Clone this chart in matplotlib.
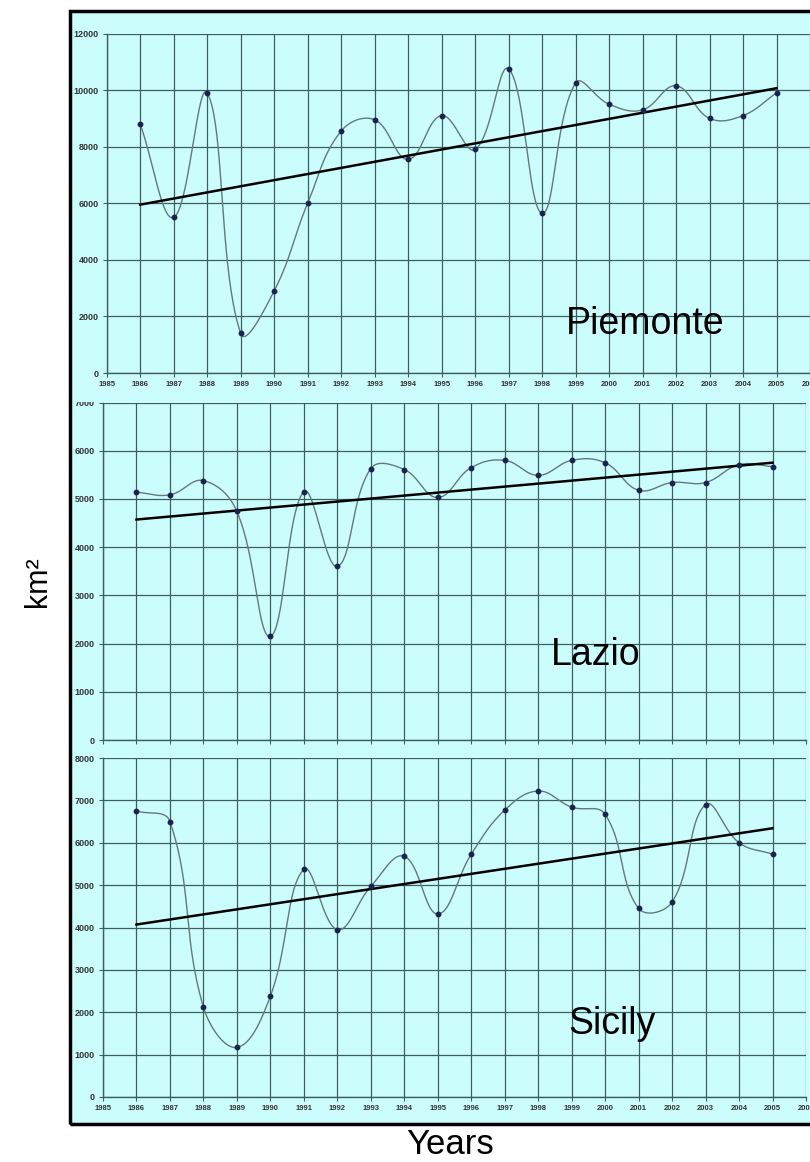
import numpy as np
import matplotlib
matplotlib.use("Agg")
import matplotlib.pyplot as plt
from matplotlib.patches import Rectangle

years = list(range(1986, 2006))
piemonte = [8800, 5500, 9900, 1400, 2900, 6000, 8550, 8950, 7550, 9100,
            7900, 10750, 5650, 10250, 9500, 9300, 10150, 9000, 9100, 9900]
lazio = [5140, 5085, 5380, 4740, 2150, 5150, 3600, 5630, 5610, 5030,
         5650, 5800, 5490, 5800, 5750, 5180, 5340, 5340, 5710, 5670]
sicily = [6750, 6500, 2120, 1170, 2380, 5370, 3950, 4970, 5680, 4320,
          5730, 6770, 7220, 6840, 6670, 4450, 4600, 6900, 6000, 5730]
region_names = ["Piemonte", "Lazio", "Sicily"]
y_maxes = [12000, 7000, 8000]
y_steps = [2000, 1000, 1000]
x_ticks = list(range(1985, 2007))

W, H = 810, 1162
fig = plt.figure(figsize=(W / 100, H / 100), dpi=100)
fig.patch.set_facecolor("white")

CYAN = "#ccfdfd"
GRID = "#3b5f5f"


def fx(px):
    return px / W


def fy(py):
    return 1 - py / H


# outer frame fill and border
fill = Rectangle((fx(70), fy(1124)), fx(900) - fx(70), fy(11) - fy(1124),
                 transform=fig.transFigure, facecolor=CYAN, edgecolor="none", zorder=-5)
fig.patches.append(fill)
border = Rectangle((fx(70), fy(1124)), fx(900) - fx(70), fy(11) - fy(1124),
                   transform=fig.transFigure, facecolor="none", edgecolor="black",
                   linewidth=2.5, zorder=20)
fig.patches.append(border)


def smooth(xs, ys, sx, sy, n=40, k=0.4):
    # Bezier smoothing in screen space, control lengths proportional to chord lengths
    P = np.column_stack([np.asarray(xs, float) * sx, np.asarray(ys, float) * sy])
    Pext = np.vstack([P[0], P, P[-1]])
    out = []
    t = np.linspace(0, 1, n)[:, None]
    for i in range(len(P) - 1):
        p0, p1, p2, p3 = Pext[i], Pext[i + 1], Pext[i + 2], Pext[i + 3]
        d01 = np.hypot(*(p1 - p0))
        d12 = np.hypot(*(p2 - p1))
        d23 = np.hypot(*(p3 - p2))
        f1 = d12 / (d01 + d12) if d01 + d12 > 0 else 0
        f2 = d12 / (d12 + d23) if d12 + d23 > 0 else 0
        c1 = p1 + (p2 - p0) * f1 * k
        c2 = p2 - (p3 - p1) * f2 * k
        seg = ((1 - t) ** 3) * p1 + 3 * ((1 - t) ** 2) * t * c1 + 3 * (1 - t) * t ** 2 * c2 + t ** 3 * p2
        out.append(seg if i == 0 else seg[1:])
    out = np.vstack(out)
    return out[:, 0] / sx, out[:, 1] / sy


# axes boxes in pixel coords: left, right, top(ymax), bottom(0)
boxes = [(106.7, 810.0, 33.5, 373.0),
         (103.0, 806.0, 402.5, 740.0),
         (103.0, 806.0, 758.0, 1097.0)]
label_pos = [(645, 324), (596, 655), (612, 1024)]
series = [piemonte, lazio, sicily]
show_xlabels = [True, False, True]
zorders = [3, 1, 2]

for k in range(3):
    l, r, t, b = boxes[k]
    ax = fig.add_axes([fx(l), fy(b), fx(r) - fx(l), fy(t) - fy(b)], zorder=zorders[k])
    ax.patch.set_alpha(0.0)
    ax.set_xlim(1985, 2006)
    ax.set_ylim(0, y_maxes[k])
    ax.set_xticks(x_ticks)
    ax.set_yticks(np.arange(0, y_maxes[k] + 1, y_steps[k]))
    ax.grid(True, color=GRID, linewidth=0.9)
    ax.set_axisbelow(True)
    for s in ["top", "right"]:
        ax.spines[s].set_visible(False)
    for s in ["left", "bottom"]:
        ax.spines[s].set_color(GRID)
        ax.spines[s].set_linewidth(1.0)
    ax.tick_params(axis="both", direction="out", length=3, width=0.8, color=GRID, pad=3)
    for lab in ax.get_yticklabels():
        lab.set_fontsize(6.5)
        lab.set_fontweight("bold")
        lab.set_color("#333333")
        lab.set_family("Liberation Sans")
    if show_xlabels[k]:
        ax.set_xticklabels([str(v) for v in x_ticks], fontsize=5.5, fontweight="bold",
                           color="#333333", family="Liberation Sans")
    else:
        ax.set_xticklabels([])
    ys = series[k]
    px_per_year = (r - l) / 21.0
    px_per_unit = (b - t) / y_maxes[k]
    cx, cy = smooth(years, ys, px_per_year, px_per_unit)
    ax.plot(cx, cy, color="#657878", linewidth=1.0, zorder=3, clip_on=False)
    ax.plot(years, ys, "o", color="#1a2250", markersize=3.2, zorder=4, clip_on=False)
    a, b0 = np.polyfit(years, ys, 1)
    tx = np.array([years[0], years[-1]])
    ax.plot(tx, a * tx + b0, color="black", linewidth=1.8, zorder=3)
    fig.text(fx(label_pos[k][0]), fy(label_pos[k][1]), region_names[k], fontsize=27,
             family="Liberation Sans", ha="center", va="center", zorder=10)

# cyan band hiding most of the middle panel's top label
band = Rectangle((fx(74), fy(401.5)), fx(900) - fx(74), fy(373.5) - fy(401.5),
                 transform=fig.transFigure, facecolor=CYAN, edgecolor="none", zorder=1.5)
fig.patches.append(band)

fig.text(fx(450), fy(1145), "Years", fontsize=25, family="Liberation Sans",
         ha="center", va="center")
fig.text(fx(38), fy(582), "km²", fontsize=22, family="Liberation Sans",
         ha="center", va="center", rotation=90)

fig.savefig("out.png", dpi=100, facecolor="white")
